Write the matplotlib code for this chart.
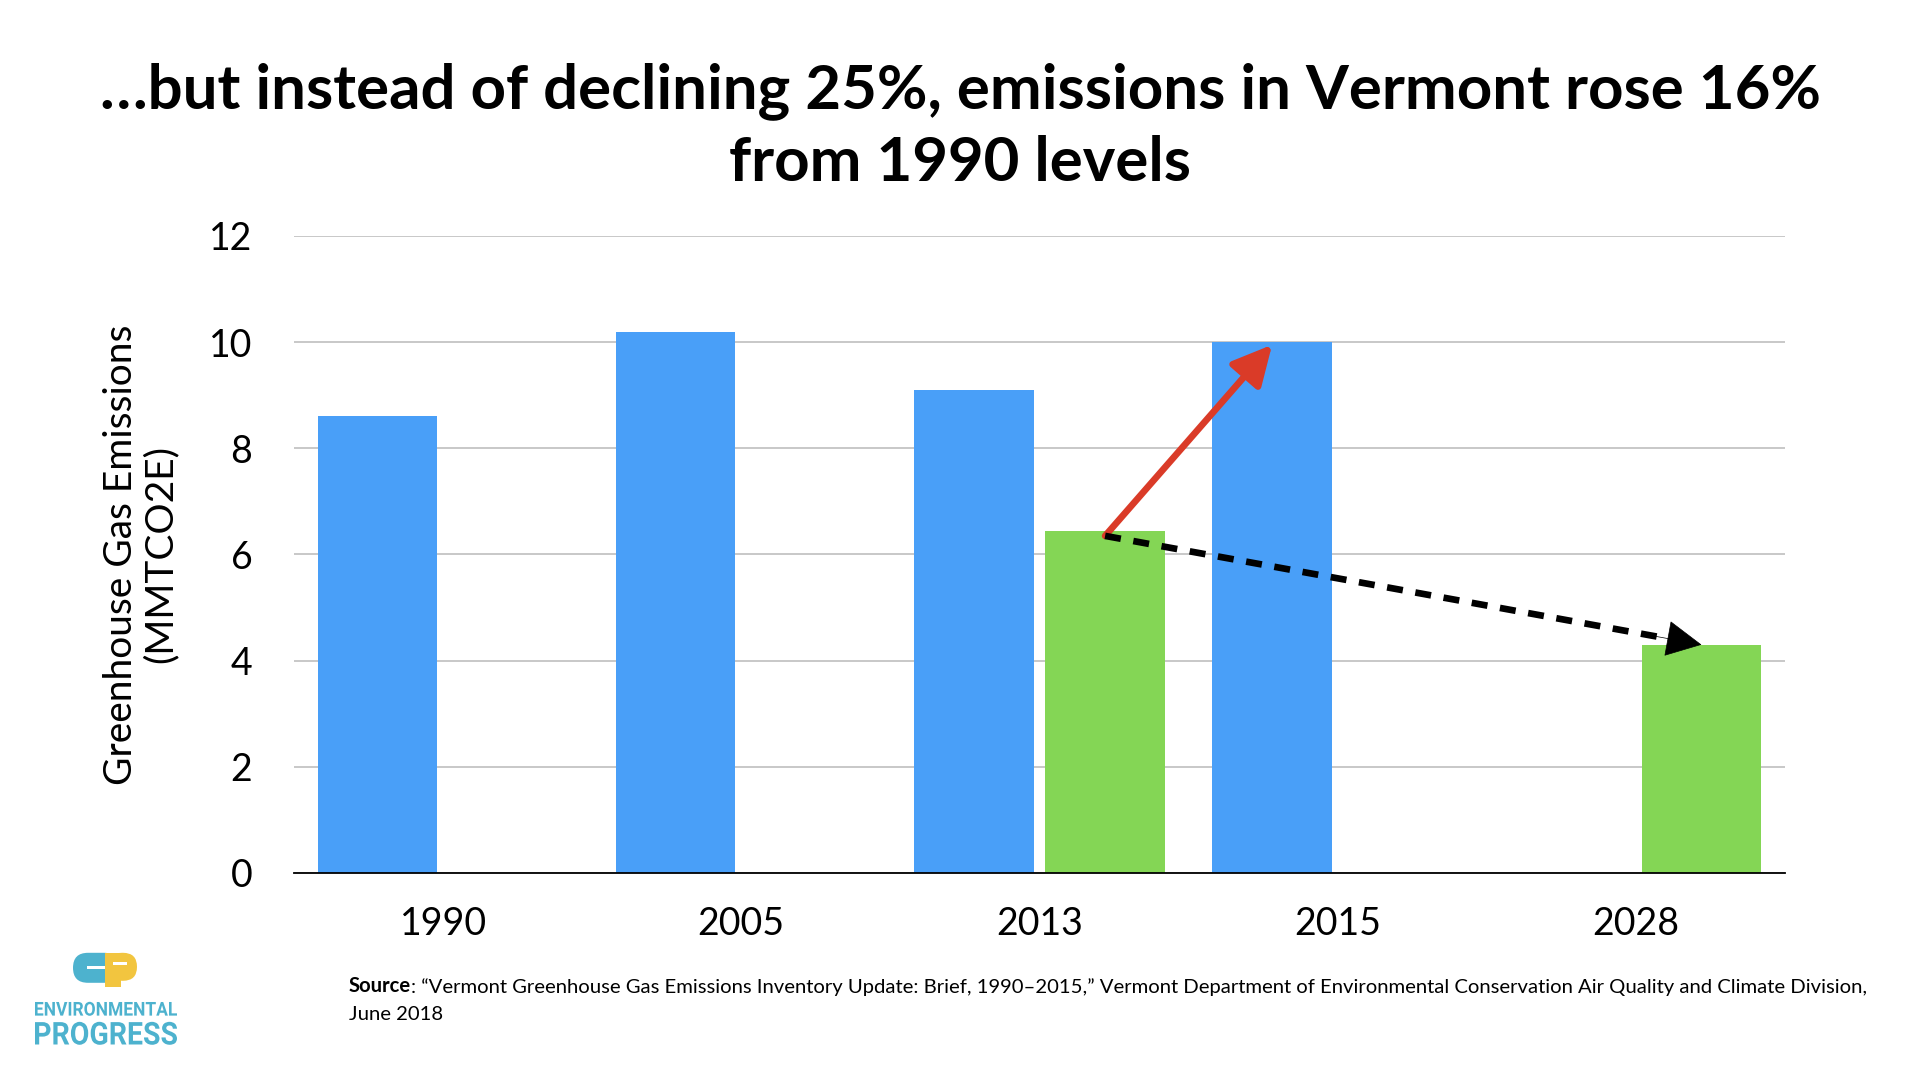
import matplotlib
matplotlib.use("Agg")
import matplotlib.pyplot as plt
import numpy as np
from matplotlib.patches import FancyBboxPatch, Rectangle, PathPatch
from matplotlib.textpath import TextPath
from matplotlib.font_manager import FontProperties
from matplotlib.transforms import Affine2D

# -------------------------
# Data
# -------------------------
years = ["1990", "2005", "2013", "2015", "2028"]
actual = [8.6, 10.2, 9.1, 10.0, np.nan]      # blue bars
target = [np.nan, np.nan, 6.45, np.nan, 4.3]  # green bars

yticks = [0, 2, 4, 6, 8, 10, 12]

title = "…but instead of declining 25%, emissions in Vermont rose 16%\nfrom 1990 levels"
ylabel = "Greenhouse Gas Emissions\n(MMTCO2E)"
source_rest = (": \u201cVermont Greenhouse Gas Emissions Inventory Update: Brief, 1990\u20132015,\u201d "
               "Vermont Department of Environmental Conservation Air Quality and Climate Division,")
source_line2 = "June 2018"

BLUE = "#499FF8"
GREEN = "#84D655"
RED = "#DA3B28"
TEAL = "#4DB2CE"
YELLOW = "#F2C53F"

plt.rcParams["font.family"] = ["Lato", "DejaVu Sans"]

# -------------------------
# Plot
# -------------------------
fig = plt.figure(figsize=(19.2, 10.8), dpi=100)
ax = fig.add_axes([0.1531, 0.1917, 0.7766, 0.5898])

x = np.arange(len(years))
width = 0.4
off = 0.22

ax.bar(x - off, actual, width, color=BLUE, zorder=2)
ax.bar(x + off, target, width, color=GREEN, zorder=2)

ax.set_xlim(-0.5, len(years) - 0.5)
ax.set_ylim(0, 12)
ax.set_yticks(yticks)
ax.set_xticks(x)
ax.set_xticklabels(years)
ax.tick_params(axis="both", length=0, labelsize=27, colors="black")
ax.tick_params(axis="y", pad=30)
ax.tick_params(axis="x", pad=24)

ax.grid(axis="y", color="#C4C4C4", lw=1.3, zorder=0)
ax.set_axisbelow(True)
for s in ["left", "right", "top"]:
    ax.spines[s].set_visible(False)
ax.spines["bottom"].set_color("black")
ax.spines["bottom"].set_linewidth(1.3)
ax.spines["bottom"].set_zorder(3)

ax.set_ylabel(ylabel, fontsize=28, labelpad=22, linespacing=1.1)

# arrows from the 2013 target bar
i13, i15, i28 = years.index("2013"), years.index("2015"), years.index("2028")
start = (i13 + off, target[i13] - 0.1)
red_end = (i15 - off, actual[i15] - 0.05)
blk_end = (i28 + off, target[i28])

ax.annotate("", xy=red_end, xytext=start, zorder=5,
            arrowprops=dict(arrowstyle="-|>,head_length=0.75,head_width=0.38",
                            mutation_scale=32, lw=4.8, color=RED,
                            shrinkA=0, shrinkB=0))

# dashed shaft plus solid head for the black arrow
dx = blk_end[0] - start[0]
dy = blk_end[1] - start[1]
frac = 0.93
ax.plot([start[0], start[0] + dx * frac], [start[1], start[1] + dy * frac],
        color="black", lw=4.8, linestyle=(0, (2.4, 1.9)), zorder=5,
        solid_capstyle="butt", dash_capstyle="butt")
ax.annotate("", xy=blk_end, xytext=(start[0] + dx * 0.9, start[1] + dy * 0.9), zorder=5,
            arrowprops=dict(arrowstyle="-|>,head_length=0.75,head_width=0.38",
                            mutation_scale=32, lw=0.5, color="black",
                            shrinkA=0, shrinkB=0))

# title
fig.text(0.5, 0.8827, title, ha="center", va="center", fontsize=44.5,
         fontweight="bold", linespacing=1.33)

# source
src = fig.text(0.1818, 0.0815, "Source", fontsize=14.6, fontweight="bold",
               ha="left", va="baseline")
fig.canvas.draw()
ax.annotate(source_rest, xy=(1, 0), xycoords=src, fontsize=14.6,
            ha="left", va="bottom", annotation_clip=False)
fig.text(0.1818, 0.0555, source_line2, fontsize=14.6, ha="left", va="baseline")

# logo (axes units are pixels, y pointing down)
lg = fig.add_axes([0.0, 0.0, 0.1, 0.14])
lg.set_xlim(0, 192)
lg.set_ylim(151.2, 0)
lg.axis("off")
lg.add_patch(FancyBboxPatch((73, 24), 46, 30, boxstyle="round,pad=0,rounding_size=15",
                            fc=TEAL, ec="none"))
lg.add_patch(Rectangle((105, 24), 16, 34, fc=YELLOW, ec="none"))
lg.add_patch(FancyBboxPatch((108, 24), 29, 28, boxstyle="round,pad=0,rounding_size=14",
                            fc=YELLOW, ec="none"))
lg.add_patch(Rectangle((87, 37), 18, 3.5, fc="white", ec="none"))
lg.add_patch(Rectangle((113, 33), 14, 3.5, fc="white", ec="none"))

logo_font = FontProperties(family="Roboto", weight="bold")


def fit_text(s, x0, x1, y0, y1):
    tp = TextPath((0, 0), s, size=10, prop=logo_font)
    bb = tp.get_extents()
    tr = (Affine2D().translate(-bb.x0, -bb.y0)
          .scale((x1 - x0) / bb.width, -(y1 - y0) / bb.height)
          .translate(x0, y1))
    lg.add_patch(PathPatch(tr.transform_path(tp), fc=TEAL, ec="none"))


fit_text("ENVIRONMENTAL", 35, 177, 73, 87)
fit_text("PROGRESS", 35, 177, 93, 116)

fig.savefig("out.png", dpi=100)
